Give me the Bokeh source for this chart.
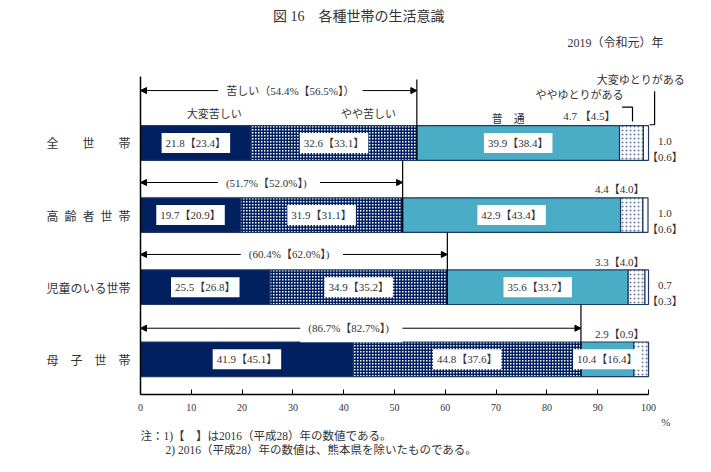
import numpy as np
from bokeh.plotting import figure
from bokeh.models import Range1d, Label, Arrow, NormalHead, FixedTicker, Title
from bokeh.embed import file_html
from bokeh.resources import INLINE

# ---------------- data ----------------
categories = ["全世帯", "高齢者世帯", "児童のいる世帯", "母子世帯"]
category_labels = ["全　　世　　帯", "高\u2002齢\u2002者\u2002世\u2002帯", "児童のいる世帯", "母　子　世　帯"]
levels = ["大変苦しい", "やや苦しい", "普　通", "ややゆとりがある", "大変ゆとりがある"]

very_hard_2019 = [21.8, 19.7, 25.5, 41.9]
hard_2019 = [32.6, 31.9, 34.9, 44.8]
normal_2019 = [39.9, 42.9, 35.6, 10.4]
some_room_2019 = [4.7, 4.4, 3.3, 2.9]
much_room_2019 = [1.0, 1.0, 0.7, 0.0]

very_hard_2016 = [23.4, 20.9, 26.8, 45.1]
hard_2016 = [33.1, 31.1, 35.2, 37.6]
normal_2016 = [38.4, 43.4, 33.7, 16.4]
some_room_2016 = [4.5, 4.0, 4.0, 0.9]
much_room_2016 = [0.6, 0.6, 0.3, 0.0]

hard_total_2019 = [54.4, 51.7, 60.4, 86.7]
hard_total_2016 = [56.5, 52.0, 62.0, 82.7]

x_ticks = list(range(0, 101, 10))

title_text = "図 16　各種世帯の生活意識"
year_text = "2019（令和元）年"
note1 = "注：1)【　】は2016（平成28）年の数値である。"
note2 = "2) 2016（平成28）年の数値は、熊本県を除いたものである。"

# ---------------- style ----------------
NAVY = "#002060"
EDGE = "#1F3864"
TEAL = "#4BACC6"
TXT = "#333333"
SERIF = "Liberation Serif, Noto Sans CJK JP"
SANS = "Noto Sans CJK JP"

rows = [3, 2, 1, 0]
BAR_H = 0.48

p = figure(width=711, height=472, x_range=Range1d(0, 112.4), y_range=Range1d(-0.488, 4.976),
           output_backend="svg", toolbar_location=None,
           min_border_left=140, min_border_right=0, min_border_top=0, min_border_bottom=78)
p.outline_line_color = None
p.grid.visible = False
p.background_fill_color = "white"
p.border_fill_color = "white"

seg_values = np.array([very_hard_2019, hard_2019, normal_2019, some_room_2019, much_room_2019])
seg_prev = np.array([very_hard_2016, hard_2016, normal_2016, some_room_2016, much_room_2016])
cum = np.cumsum(seg_values, axis=0)
lefts = cum - seg_values

styles = [
    dict(fill_color=NAVY),
    dict(fill_color="white", hatch_pattern="cross", hatch_color=NAVY, hatch_scale=3, hatch_weight=2),
    dict(fill_color=TEAL),
    dict(fill_color="white", hatch_pattern="dot", hatch_color=NAVY, hatch_scale=4, hatch_weight=1, hatch_alpha=0.6),
    dict(fill_color="white"),
]
for i in range(5):
    p.hbar(y=rows, left=lefts[i], right=cum[i], height=BAR_H, line_color=EDGE, line_width=1.2, **styles[i])

# vertical boundary lines of "苦しい"
b = cum[1]
y_top = [3.881] + [r + 1 - BAR_H / 2 for r in rows[1:]]
y_bot = [r - BAR_H / 2 for r in rows]
p.segment(x0=b, y0=y_top, x1=b, y1=y_bot, line_color="black", line_width=1.2)

# brackets near the top right
p.multi_line(xs=[[94.8, 96.85, 96.85], [100.2, 101.2, 101.2]],
             ys=[[3.497, 3.497, 3.298], [3.253, 3.253, 3.717]],
             line_color="black", line_width=1.2)

def lab(x, y, text, size="11px", align="center", font=SERIF, bg=None, pad=0, baseline="middle"):
    kw = dict(x=x, y=y, text=text, text_font=font, text_font_size=size, text_color=TXT,
              text_align=align, text_baseline=baseline)
    if bg:
        kw.update(background_fill_color=bg, padding=pad)
    p.add_layout(Label(**kw))

# arrows
arrow_y = [3.727, 2.452, 1.454, 0.431]
arrow_text_x = [29.5, 25.3, 29.8, 41.5]
for k in range(4):
    p.add_layout(Arrow(start=NormalHead(size=6, fill_color="black", line_color="black"),
                       end=NormalHead(size=6, fill_color="black", line_color="black"),
                       x_start=0, y_start=arrow_y[k], x_end=b[k], y_end=arrow_y[k],
                       line_color="black", line_width=1))
for k in range(4):
    if k == 0:
        t = f"苦しい（{hard_total_2019[k]:.1f}%【{hard_total_2016[k]:.1f}%】）"
    else:
        t = f"({hard_total_2019[k]:.1f}%【{hard_total_2016[k]:.1f}%】)"
    lab(arrow_text_x[k], arrow_y[k], t, bg="white", pad=8)

# values inside bars
for i in range(3):
    for k in range(4):
        cx = (lefts[i][k] + cum[i][k]) / 2
        lab(cx, rows[k], f"{seg_values[i][k]:.1f}【{seg_prev[i][k]:.1f}】", bg="white", pad=4)

# ややゆとりがある values
lab(93.5, 3.381, f"{some_room_2019[0]:.1f} 【{some_room_2016[0]:.1f}】", align="right")
for k in range(1, 4):
    lab(99.2, rows[k] + 0.355, f"{some_room_2019[k]:.1f}【{some_room_2016[k]:.1f}】", align="right")

# 大変ゆとりがある values
for k in range(3):
    lab(103.2, rows[k] + 0.02, f"{much_room_2019[k]:.1f}")
    lab(103.2, rows[k] - 0.19, f"【{much_room_2016[k]:.1f}】")

# headers
lab(14.5, 3.42, levels[0], font=SANS)
lab(44.9, 3.42, levels[1], font=SANS)
lab(72.4, 3.353, levels[2], font=SANS)
lab(95.1, 3.673, levels[3], font=SANS, align="right")
lab(89.8, 3.881, levels[4], font=SANS, align="left")

# title & year
lab(42.97, 4.754, title_text, size="14px")
lab(102.95, 4.38, year_text, size="12px", align="right")

# axes
xa = p.xaxis[0]
xa.ticker = FixedTicker(ticks=x_ticks)
xa.bounds = (0, 100)
xa.major_tick_in = 5
xa.major_tick_out = 0
xa.minor_tick_in = 0
xa.minor_tick_out = 0
xa.axis_line_color = "black"
xa.axis_line_width = 1.5
xa.major_tick_line_color = "black"
xa.major_label_text_font = "Liberation Serif"
xa.major_label_text_font_size = "10px"
xa.major_label_text_color = TXT
xa.major_label_standoff = 9

ya = p.yaxis[0]
ya.ticker = FixedTicker(ticks=rows)
ya.major_label_overrides = {r: category_labels[k] for k, r in enumerate(rows)}
ya.bounds = (-0.488, 3.922)
ya.major_tick_in = 0
ya.major_tick_out = 0
ya.minor_tick_in = 0
ya.minor_tick_out = 0
ya.axis_line_color = "black"
ya.axis_line_width = 1.5
ya.major_label_text_font = SANS
ya.major_label_text_font_size = "12px"
ya.major_label_text_color = TXT
ya.major_label_standoff = 10

# % sign and notes below the axis (side-panel titles)
def below(text, size, align, offset):
    t = Title(text=text, align=align, offset=offset, standoff=0, text_font=SERIF,
              text_font_size=size, text_font_style="normal", text_color=TXT, vertical_align="bottom")
    p.add_layout(t, "below")

below("%", "11px", "right", 41)
below(note1, "11.5px", "left", 0)
below(note2, "11.5px", "left", 25)

open("out.html", "w").write(file_html(p, INLINE))
